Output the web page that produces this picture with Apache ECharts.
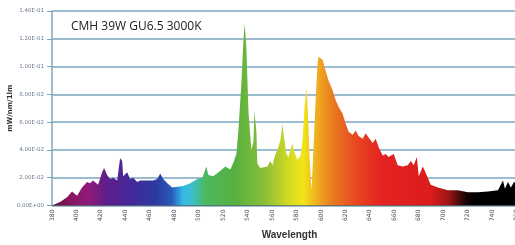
<!DOCTYPE html>
<html>
<head>
<meta charset="utf-8">
<script src="https://cdn.jsdelivr.net/npm/echarts@6/dist/echarts.min.js"></script>
<style>
  html, body { margin: 0; padding: 0; background: #fff; }
  #chart { width: 515px; height: 245px; }
</style>
</head>
<body>
<div id="chart"></div>
<script>
// spectrum (nm, mW/nm/1lm)
var wavelengths = [
  380, 386.6, 392.3, 396.4, 400.5, 404.6, 408.7, 411.1, 413.6, 417.7,
  421, 422.6, 425.1, 427.5, 430, 433.3, 435.7, 437.4, 438.2, 441.5,
  443.9, 446.4, 449.7, 452.1, 457.9, 462.8, 466.1, 468.5, 471, 474.3,
  478.4, 482.5, 487.4, 493.1, 498.9, 503, 506.2, 507.9, 509.5, 512,
  517.7, 521.8, 525.9, 528.4, 530.8, 532.5, 534.9, 536.6, 537.6, 539,
  540.7, 543.1, 544.8, 545.6, 547.2, 548, 550.5, 556.2, 558.7, 560.3,
  562.8, 564.4, 566.9, 568.5, 569.3, 571.8, 573.4, 576.7, 578.4, 580.8,
  583.3, 584.9, 586.6, 588.2, 589, 590.7, 592.3, 593.9, 595.6, 597.2,
  598, 601.3, 603.8, 606.2, 609.5, 612, 614.4, 617.7, 620.2, 622.6,
  625.9, 628.4, 630.8, 634.1, 636.6, 639, 642.3, 644.8, 647.2, 650.5,
  653, 655.4, 659.5, 662.8, 666.9, 671, 673.5, 675.9, 678.4, 680,
  683.3, 684.9, 687.4, 689.8, 695.6, 703.8, 712, 720.2, 728.4, 736.6,
  744.8, 748.9, 750.5, 753, 755.4, 757.9, 765, 772, 780
];
var intensity = [
  0, 0.0026, 0.006, 0.010, 0.007, 0.013, 0.017, 0.016, 0.018, 0.015,
  0.024, 0.027, 0.022, 0.019, 0.020, 0.018, 0.034, 0.032, 0.021, 0.024,
  0.019, 0.020, 0.017, 0.018, 0.018, 0.018, 0.019, 0.023, 0.019, 0.016,
  0.013, 0.0135, 0.014, 0.016, 0.019, 0.020, 0.028, 0.022, 0.021, 0.021,
  0.025, 0.028, 0.026, 0.031, 0.037, 0.054, 0.088, 0.119, 0.131, 0.114,
  0.068, 0.040, 0.046, 0.068, 0.053, 0.030, 0.027, 0.028, 0.032, 0.029,
  0.037, 0.040, 0.047, 0.059, 0.052, 0.037, 0.035, 0.045, 0.038, 0.033,
  0.036, 0.047, 0.071, 0.085, 0.073, 0.035, 0.011, 0.042, 0.076, 0.102,
  0.107, 0.105, 0.097, 0.090, 0.083, 0.076, 0.071, 0.066, 0.059, 0.053,
  0.051, 0.054, 0.050, 0.048, 0.052, 0.049, 0.045, 0.048, 0.042, 0.036,
  0.037, 0.035, 0.037, 0.029, 0.028, 0.029, 0.032, 0.029, 0.035, 0.021,
  0.028, 0.025, 0.020, 0.015, 0.013, 0.011, 0.011, 0.0095, 0.0095, 0.010,
  0.011, 0.018, 0.012, 0.017, 0.013, 0.017, 0.013, 0.012, 0.011
];
// fill colour by wavelength
var spectrumStops = [
  [380, '#5c1238'], [395, '#8a1460'], [410, '#8e1a78'], [425, '#5e1e8a'],
  [445, '#44289a'], [465, '#2c3aa0'], [478, '#2a5ab8'], [487, '#35b8e8'],
  [496, '#3cc0c0'], [505, '#4cb860'], [530, '#58b040'], [555, '#8cc038'],
  [575, '#d8dc20'], [586, '#f2e418'], [596, '#f0b020'], [610, '#e87a20'],
  [630, '#e84420'], [650, '#e42222'], [690, '#dc1c1c'], [705, '#9a1414'],
  [718, '#1a0505'], [725, '#000000'], [780, '#000000']
];
var xMin = 380, xMax = 780, xStep = 20;
var yMax = 0.14, yStep = 0.02;

var chart = echarts.init(document.getElementById('chart'), null, { renderer: 'canvas' });

var points = wavelengths.map(function (w, i) { return [w, intensity[i]]; });
var first = wavelengths[0], last = wavelengths[wavelengths.length - 1];
var fill = new echarts.graphic.LinearGradient(0, 0, 1, 0, spectrumStops.map(function (s) {
  return { offset: (s[0] - first) / (last - first), color: s[1] };
}));

// 0.14 -> "1.40E-01"
function sci(v) {
  if (v === 0) return '0.00E+00';
  var e = Math.floor(Math.log10(v) + 1e-9);
  var m = v / Math.pow(10, e);
  var sign = e < 0 ? '-' : '+';
  var a = Math.abs(e);
  return m.toFixed(2) + 'E' + sign + (a < 10 ? '0' + a : a);
}

var option = {
  animation: false,
  backgroundColor: '#fff',
  title: {
    text: 'CMH 39W GU6.5 3000K',
    left: 66, top: 16,
    textStyle: { fontFamily: 'Open Sans', fontSize: 12, fontWeight: 'normal', color: '#222' }
  },
  grid: { left: 52, right: -26, top: 11, bottom: 39.5, containLabel: false, outerBoundsMode: 'none' },
  xAxis: {
    type: 'value', min: xMin, max: xMax, interval: xStep,
    name: 'Wavelength', nameLocation: 'middle', nameGap: 25, nameMoveOverlap: false,
    nameTextStyle: { fontFamily: 'Liberation Sans', fontWeight: 'bold', fontSize: 10, color: '#333', padding: [0, 14, 0, 0] },
    axisLine: { lineStyle: { color: '#5a6a70', width: 1 } },
    axisTick: { show: false },
    axisLabel: { rotate: 90, fontSize: 6, color: '#3a4a5a', margin: 4, fontFamily: 'DejaVu Sans' },
    splitLine: { show: false }
  },
  yAxis: {
    type: 'value', min: 0, max: yMax, interval: yStep,
    name: 'mW/nm/1lm', nameLocation: 'middle', nameGap: 38, nameRotate: 90, nameMoveOverlap: false,
    nameTextStyle: { fontFamily: 'DejaVu Sans', fontWeight: 'bold', fontSize: 7, color: '#333' },
    axisLine: { show: true, lineStyle: { color: '#7fa6c0', width: 1.5 } },
    axisTick: { show: true, length: 5, lineStyle: { color: '#7fa6c0' } },
    axisLabel: { fontSize: 5.5, color: '#6a7a8a', margin: 8, fontFamily: 'DejaVu Sans', formatter: sci },
    splitLine: { lineStyle: { color: '#7aa6c2', width: 1.5 } }
  },
  series: [{
    type: 'line',
    data: points,
    showSymbol: false,
    lineStyle: { width: 0 },
    areaStyle: { color: fill, opacity: 1 },
    z: 3
  }]
};
chart.setOption(option);
</script>
</body>
</html>
